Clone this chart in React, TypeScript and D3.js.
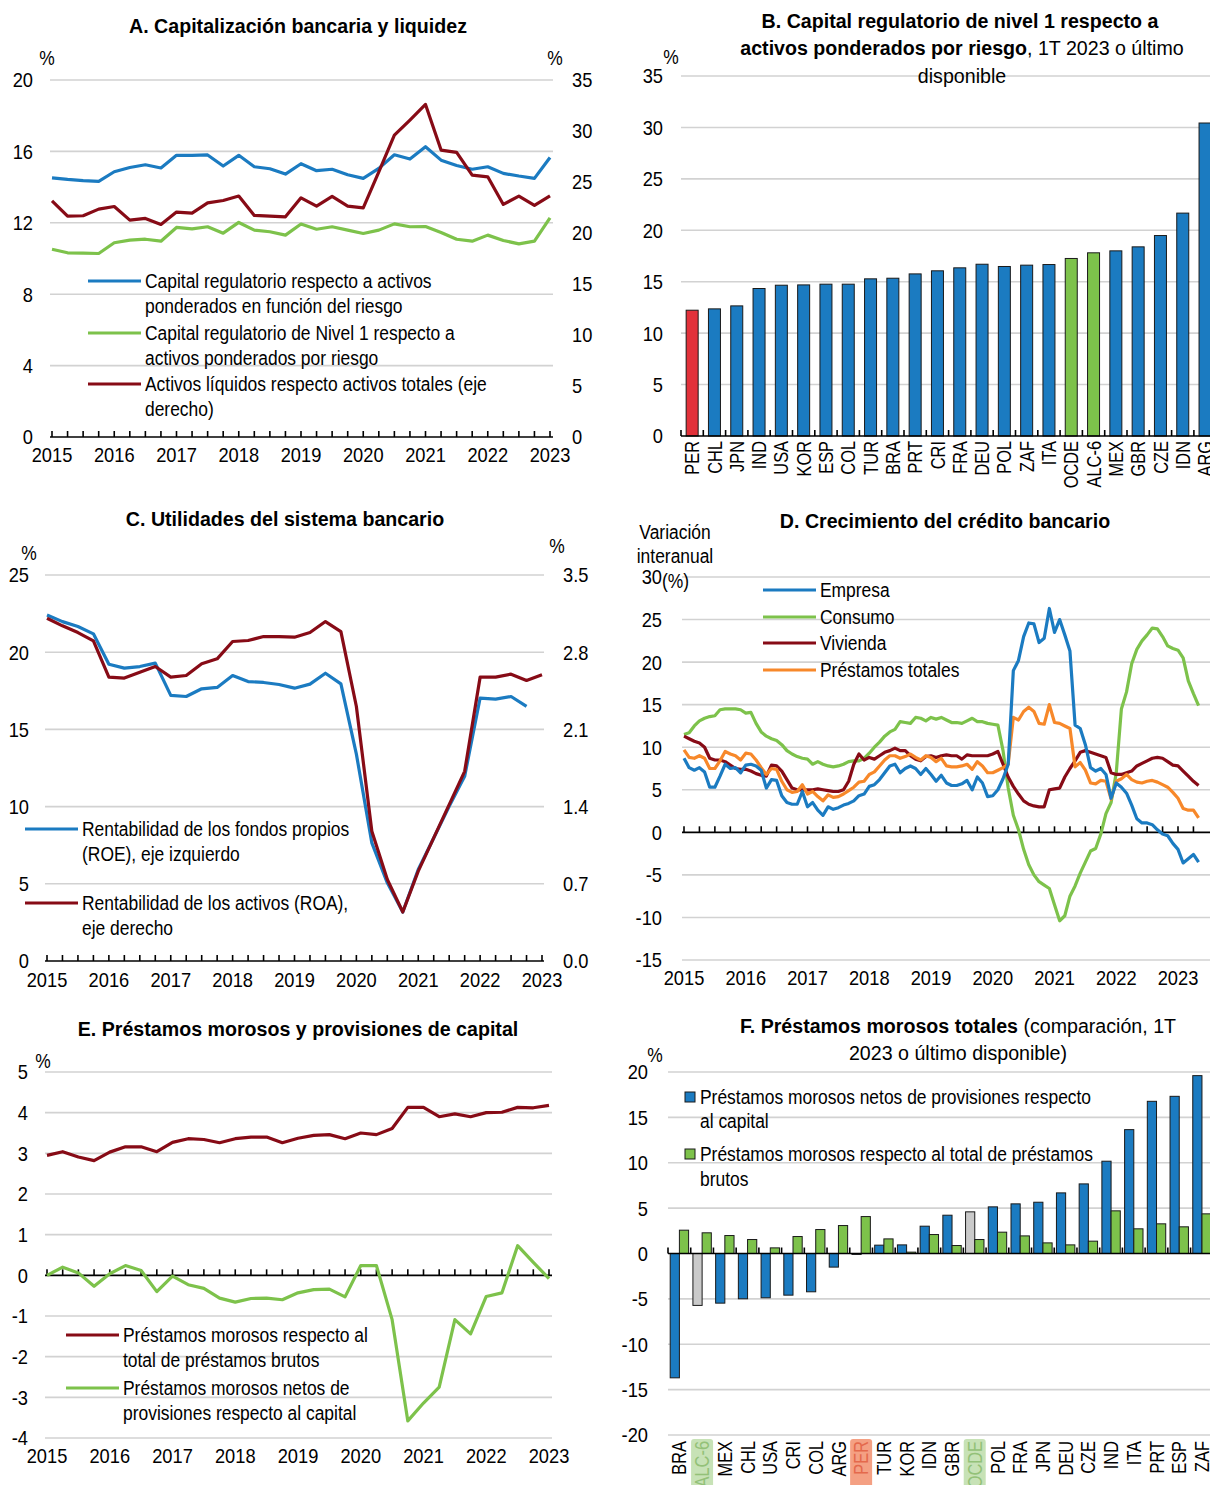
import * as d3 from "d3";

const NARROW = "'Liberation Sans Narrow', 'Arial Narrow', 'Liberation Sans', Arial, sans-serif";
const BLUE = "#1b7bc1";
const GREEN = "#7dc24b";
const DARKRED = "#870b16";
const ORANGE = "#f7882a";
const RED = "#e2313a";
const GREY = "#cacaca";
const GRID = "#d2d2d2";
// no narrow face in the sandbox, so text is squeezed horizontally
const SX = 0.83;
const SX_TICK = 0.87;
const SX_TITLE = 0.935;

const yearLabels = ["2015", "2016", "2017", "2018", "2019", "2020", "2021", "2022", "2023"];

// A. quarterly 2015T1-2023T1
const capitalRegA = [14.52, 14.43, 14.36, 14.32, 14.86, 15.1, 15.25, 15.07, 15.78, 15.78, 15.8, 15.18, 15.78, 15.14, 15.03, 14.73, 15.31, 14.92, 15.0, 14.69, 14.49, 15.05, 15.81, 15.57, 16.26, 15.51, 15.21, 15.0, 15.14, 14.77, 14.62, 14.49, 15.66];
const tier1A = [10.52, 10.32, 10.3, 10.28, 10.88, 11.03, 11.08, 10.97, 11.74, 11.66, 11.78, 11.42, 12.02, 11.59, 11.5, 11.31, 11.93, 11.64, 11.78, 11.59, 11.4, 11.59, 11.94, 11.78, 11.79, 11.46, 11.08, 10.97, 11.31, 11.01, 10.82, 10.97, 12.28];
const liquidA = [23.16, 21.65, 21.69, 22.34, 22.6, 21.26, 21.43, 20.84, 22.05, 21.95, 22.96, 23.19, 23.62, 21.72, 21.65, 21.59, 23.45, 22.64, 23.58, 22.64, 22.47, 26.0, 29.6, 31.07, 32.6, 28.13, 27.9, 25.68, 25.51, 22.8, 23.62, 22.7, 23.65];

// B
const catsB = ["PER", "CHL", "JPN", "IND", "USA", "KOR", "ESP", "COL", "TUR", "BRA", "PRT", "CRI", "FRA", "DEU", "POL", "ZAF", "ITA", "OCDE", "ALC-6", "MEX", "GBR", "CZE", "IDN", "ARG"];
const tier1B = [12.23, 12.36, 12.65, 14.34, 14.66, 14.69, 14.76, 14.76, 15.28, 15.34, 15.76, 16.06, 16.35, 16.7, 16.48, 16.61, 16.67, 17.26, 17.81, 18.0, 18.39, 19.49, 21.67, 30.43];

// C. ROE left axis (to 2022T4), ROA right axis (to 2023T1)
const roeC = [22.41, 21.98, 21.66, 21.19, 19.22, 18.97, 19.07, 19.29, 17.2, 17.13, 17.63, 17.72, 18.49, 18.1, 18.04, 17.91, 17.67, 17.93, 18.64, 17.95, 13.4, 7.65, 5.06, 3.17, 5.93, 7.97, 10.02, 11.96, 17.03, 16.96, 17.13, 16.49];
const roaC = [3.108, 3.039, 2.978, 2.903, 2.574, 2.565, 2.619, 2.67, 2.574, 2.589, 2.695, 2.74, 2.897, 2.906, 2.942, 2.942, 2.936, 2.978, 3.078, 2.987, 2.308, 1.177, 0.739, 0.444, 0.815, 1.116, 1.418, 1.72, 2.574, 2.574, 2.601, 2.544, 2.595];

// D. monthly 2015-01 to 2023-05
const empresaD = [
  8.7, 7.6, 7.3, 7.6, 7.1, 5.3, 5.3, 6.6, 8.0, 7.5, 7.6, 7.0,
  7.9, 8.0, 7.8, 7.3, 5.2, 6.2, 6.1, 4.3, 3.5, 3.3, 3.3, 4.8,
  3.0, 3.5, 2.6, 2.0, 3.0, 2.7, 2.9, 3.2, 3.4, 3.7, 4.3, 4.5,
  5.4, 5.6, 6.2, 7.0, 7.8, 8.0, 7.0, 7.5, 7.8, 7.5, 6.8, 7.5,
  6.8, 6.0, 6.7, 5.8, 5.5, 5.5, 5.7, 6.1, 5.0, 6.5, 5.8, 4.2,
  4.3, 5.0, 6.3, 8.0, 19.0, 20.2, 23.0, 24.6, 24.5, 22.3, 22.8, 26.3,
  23.5, 25.0, 23.2, 21.3, 12.6, 12.2, 10.3, 7.6, 7.2, 7.5, 6.8, 4.0,
  5.8, 5.3, 4.6, 3.2, 1.6, 1.1, 1.1, 0.9, 0.3, -0.2, -0.4, -1.3,
  -2.0, -3.6, -3.1, -2.6, -3.5,
];
const consumoD = [
  11.5, 11.7, 12.5, 13.1, 13.4, 13.6, 13.7, 14.4, 14.5, 14.5, 14.5, 14.4,
  14.0, 14.1, 12.8, 11.8, 11.3, 11.0, 10.8, 10.3, 9.6, 9.2, 8.9, 8.7,
  8.6, 8.0, 8.3, 8.0, 7.8, 7.7, 7.8, 8.0, 8.3, 8.4, 8.4, 8.7,
  9.3, 10.0, 10.6, 11.3, 11.8, 12.1, 13.0, 12.9, 12.8, 13.5, 13.4, 13.1,
  13.5, 13.3, 13.5, 13.2, 12.9, 12.9, 12.8, 13.1, 13.4, 13.0, 13.0, 12.8,
  12.7, 12.6, 9.6, 5.2, 2.0, 0.3, -2.0, -3.8, -5.0, -5.8, -6.2, -6.6,
  -8.5, -10.4, -9.8, -7.5, -6.3, -4.8, -3.5, -2.2, -1.9, -0.2, 2.2, 3.5,
  7.0, 14.5, 16.5, 19.8, 21.5, 22.5, 23.2, 24.0, 23.9, 23.0, 21.9, 21.6,
  21.4, 20.5, 17.8, 16.3, 14.9,
];
const viviendaD = [
  11.3, 11.0, 10.7, 10.5, 10.0, 8.7, 8.5, 8.5, 8.3, 7.9, 7.5, 7.4,
  7.4, 7.2, 6.9, 6.7, 6.6, 7.9, 7.8, 7.2, 6.2, 5.2, 5.0, 5.0,
  5.0, 5.0, 5.1, 5.0, 4.9, 4.8, 4.8, 5.0, 6.0, 8.0, 9.2, 8.5,
  8.8, 8.6, 9.0, 9.4, 9.6, 9.9, 9.6, 9.6, 9.0, 8.6, 8.4, 8.9,
  9.0, 8.8, 9.0, 9.1, 9.0, 9.0, 8.6, 9.1, 9.0, 9.0, 9.0, 9.0,
  9.2, 9.5, 8.0, 6.5, 5.4, 4.5, 3.7, 3.3, 3.1, 3.0, 3.0, 5.0,
  5.1, 5.2, 6.5, 7.5, 8.4, 9.4, 9.6, 9.4, 9.2, 9.0, 8.8, 7.0,
  6.8, 6.8, 7.0, 7.2, 7.8, 8.1, 8.4, 8.7, 8.8, 8.7, 8.3, 7.9,
  7.8, 7.2, 6.6, 6.0, 5.5,
];
const totalesD = [
  9.7, 8.8, 8.7, 9.0, 8.7, 7.5, 7.5, 8.4, 9.5, 9.2, 9.0, 8.5,
  9.3, 9.2, 8.5, 7.6, 6.8, 7.5, 7.4, 6.0, 5.0, 4.7, 4.8, 5.6,
  4.5, 4.8, 4.2, 3.7, 4.4, 4.1, 4.2, 4.5, 4.9, 5.3, 5.9, 6.0,
  6.8, 7.1, 7.8, 8.5, 9.0, 9.0, 8.7, 8.9, 9.2, 8.8, 8.5, 9.0,
  8.8, 8.3, 8.7, 7.8, 7.7, 7.7, 7.8, 8.0, 7.4, 8.3, 7.8, 7.0,
  7.0, 7.3, 7.6, 8.0, 13.5, 13.2, 14.2, 14.7, 14.2, 12.8, 12.7, 15.0,
  12.9, 12.8, 12.5, 12.2, 7.7, 8.2, 7.3, 5.8, 5.7, 6.1, 6.0, 3.9,
  6.0, 6.3, 6.8, 6.2, 5.9, 5.8, 6.0, 6.1, 5.9, 5.6, 5.3, 4.7,
  4.0, 2.8, 2.6, 2.6, 1.7,
];

// E. quarterly 2015T1-2023T1
const nplRatioE = [2.95, 3.04, 2.91, 2.82, 3.03, 3.16, 3.16, 3.04, 3.27, 3.36, 3.34, 3.26, 3.36, 3.4, 3.4, 3.26, 3.37, 3.44, 3.46, 3.36, 3.5, 3.46, 3.61, 4.13, 4.13, 3.9, 3.97, 3.9, 4.0, 4.01, 4.13, 4.12, 4.18];
const netNplE = [0.0, 0.2, 0.06, -0.27, 0.04, 0.24, 0.12, -0.4, -0.02, -0.23, -0.32, -0.56, -0.66, -0.57, -0.56, -0.6, -0.43, -0.35, -0.34, -0.53, 0.24, 0.24, -1.09, -3.58, -3.14, -2.75, -1.09, -1.44, -0.52, -0.43, 0.73, 0.32, -0.08];

// F
const catsF = ["BRA", "ALC-6", "MEX", "CHL", "USA", "CRI", "COL", "ARG", "PER", "TUR", "KOR", "IDN", "GBR", "OCDE", "POL", "FRA", "JPN", "DEU", "CZE", "IND", "ITA", "PRT", "ESP", "ZAF"];
const netNplCapF = [-13.7, -5.72, -5.47, -4.99, -4.88, -4.59, -4.22, -1.5, -0.1, 0.92, 0.95, 3.01, 4.22, 4.59, 5.14, 5.47, 5.65, 6.68, 7.67, 10.17, 13.65, 16.77, 17.32, 19.6];
const nplRatioF = [2.57, 2.28, 1.98, 1.54, 0.62, 1.87, 2.64, 3.08, 4.07, 1.61, 0.15, 2.09, 0.88, 1.54, 2.35, 1.94, 1.17, 0.95, 1.36, 4.7, 2.72, 3.27, 2.94, 4.37];

type Lin = d3.ScaleLinear<number, number>;

function T({ x = 0, y = 0, transform, sx = SX, ...rest }: any) {
  const tf = transform ? `${transform} scale(${sx},1)` : `translate(${x},${y}) scale(${sx},1)`;
  return <text x={0} y={0} transform={tf} fontFamily={NARROW} fontSize={21} fill="#000" dominantBaseline="central" {...rest} />;
}

function Title(props: any) {
  return <T sx={SX_TITLE} textAnchor="middle" {...props} />;
}

function HGrid({ y, ticks, x0, x1 }: { y: Lin; ticks: number[]; x0: number; x1: number }) {
  return (
    <g>
      {ticks.map((t) => (
        <line key={t} x1={x0} x2={x1} y1={y(t)} y2={y(t)} stroke={GRID} strokeWidth={1.6} />
      ))}
    </g>
  );
}

function YLabels({ y, ticks, x, anchor, fmt }: { y: Lin; ticks: number[]; x: number; anchor: string; fmt?: (v: number) => string }) {
  return (
    <g>
      {ticks.map((t) => (
        <T key={t} x={x} y={y(t)} sx={SX_TICK} textAnchor={anchor}>
          {fmt ? fmt(t) : String(t)}
        </T>
      ))}
    </g>
  );
}

function Axis({ x0, x1, y0, tickXs }: { x0: number; x1: number; y0: number; tickXs: number[] }) {
  return (
    <g stroke="#000" strokeWidth={1.6}>
      <line x1={x0} x2={x1} y1={y0} y2={y0} />
      {tickXs.map((tx, i) => (
        <line key={i} x1={tx} x2={tx} y1={y0} y2={y0 - 6} />
      ))}
    </g>
  );
}

function Series({ vals, x, y, color }: { vals: number[]; x: (i: number) => number; y: Lin; color: string }) {
  const gen = d3.line<number>().x((_, i) => x(i)).y((d) => y(d));
  return <path d={gen(vals) || ""} fill="none" stroke={color} strokeWidth={3.2} strokeLinejoin="round" />;
}

function LegendLine({ x, y, color, lines, len = 53 }: { x: number; y: number; color: string; lines: string[]; len?: number }) {
  return (
    <g>
      <line x1={x} x2={x + len} y1={y} y2={y} stroke={color} strokeWidth={3.2} />
      {lines.map((l, i) => (
        <T key={i} x={x + len + 4} y={y + i * 25}>
          {l}
        </T>
      ))}
    </g>
  );
}

function YearLabels({ x, y, step }: { x: (i: number) => number; y: number; step: number }) {
  return (
    <g>
      {yearLabels.map((lab, k) => (
        <T key={lab} x={x(k * step)} y={y} sx={SX_TICK} textAnchor="middle">
          {lab}
        </T>
      ))}
    </g>
  );
}

function PanelA() {
  const x = d3.scaleLinear().domain([0, 32]).range([52, 550]);
  const y = d3.scaleLinear().domain([0, 20]).range([437, 80]);
  const yR = d3.scaleLinear().domain([0, 35]).range([437, 80]);
  return (
    <g>
      <Title x={298} y={26} fontWeight="bold">A. Capitalización bancaria y liquidez</Title>
      <HGrid y={y} ticks={[4, 8, 12, 16, 20]} x0={50} x1={553} />
      <YLabels y={y} ticks={[0, 4, 8, 12, 16, 20]} x={33} anchor="end" />
      <YLabels y={yR} ticks={[0, 5, 10, 15, 20, 25, 30, 35]} x={572} anchor="start" />
      <T x={47} y={58} textAnchor="middle">%</T>
      <T x={555} y={58} textAnchor="middle">%</T>
      <Axis x0={50} x1={553} y0={437} tickXs={d3.range(33).map((i) => x(i))} />
      <YearLabels x={x} y={455} step={4} />
      <Series vals={capitalRegA} x={x} y={y} color={BLUE} />
      <Series vals={tier1A} x={x} y={y} color={GREEN} />
      <Series vals={liquidA} x={x} y={yR} color={DARKRED} />
      <LegendLine x={88} y={281} color={BLUE} lines={["Capital regulatorio respecto a activos", "ponderados en función del riesgo"]} />
      <LegendLine x={88} y={333} color={GREEN} lines={["Capital regulatorio de Nivel 1 respecto a", "activos ponderados por riesgo"]} />
      <LegendLine x={88} y={384} color={DARKRED} lines={["Activos líquidos respecto activos totales (eje", "derecho)"]} />
    </g>
  );
}

function PanelB() {
  const band = d3.scaleBand<string>().domain(catsB).range([681, 681 + 24 * 22.3]);
  const y = d3.scaleLinear().domain([0, 35]).range([436, 76]);
  const w = 12;
  const colorOf = (c: string) => (c === "PER" ? RED : c === "OCDE" || c === "ALC-6" ? GREEN : BLUE);
  return (
    <g>
      <Title x={960} y={21} fontWeight="bold">B. Capital regulatorio de nivel 1 respecto a</Title>
      <Title x={962} y={48}>
        <tspan fontWeight="bold">activos ponderados por riesgo</tspan>, 1T 2023 o último
      </Title>
      <HGrid y={y} ticks={[5, 10, 15, 20, 25, 30, 35]} x0={681} x1={1210} />
      <Title x={962} y={76}>disponible</Title>
      <YLabels y={y} ticks={[0, 5, 10, 15, 20, 25, 30, 35]} x={663} anchor="end" />
      <T x={671} y={57} textAnchor="middle">%</T>
      {catsB.map((c, i) => (
        <rect key={c} x={(band(c) as number) + (band.step() - w) / 2} y={y(tier1B[i])} width={w} height={y(0) - y(tier1B[i])} fill={colorOf(c)} stroke="#1a1a1a" strokeWidth={1} />
      ))}
      <Axis x0={681} x1={1216} y0={436} tickXs={catsB.map((c) => band(c) as number)} />
      {catsB.map((c) => (
        <T key={c} transform={`translate(${(band(c) as number) + band.step() / 2},441) rotate(-90)`} sx={0.82} textAnchor="end" fontSize={20}>
          {c}
        </T>
      ))}
    </g>
  );
}

function PanelC() {
  const x = d3.scaleLinear().domain([0, 32]).range([47, 542]);
  const y = d3.scaleLinear().domain([0, 25]).range([961, 575]);
  const yR = d3.scaleLinear().domain([0, 3.5]).range([961, 575]);
  return (
    <g>
      <Title x={285} y={519} fontWeight="bold">C. Utilidades del sistema bancario</Title>
      <HGrid y={y} ticks={[5, 10, 15, 20, 25]} x0={45} x1={544} />
      <YLabels y={y} ticks={[0, 5, 10, 15, 20, 25]} x={29} anchor="end" />
      <YLabels y={yR} ticks={[0, 0.7, 1.4, 2.1, 2.8, 3.5]} x={563} anchor="start" fmt={(v) => v.toFixed(1)} />
      <T x={29} y={553} textAnchor="middle">%</T>
      <T x={557} y={546} textAnchor="middle">%</T>
      <Axis x0={45} x1={544} y0={961} tickXs={d3.range(33).map((i) => x(i))} />
      <YearLabels x={x} y={980} step={4} />
      <Series vals={roeC} x={x} y={y} color={BLUE} />
      <Series vals={roaC} x={x} y={yR} color={DARKRED} />
      <LegendLine x={25} y={829} color={BLUE} lines={["Rentabilidad de los fondos propios", "(ROE), eje izquierdo"]} />
      <LegendLine x={25} y={903} color={DARKRED} lines={["Rentabilidad de los activos (ROA),", "eje derecho"]} />
    </g>
  );
}

function PanelD() {
  const x = d3.scaleLinear().domain([0, 96]).range([684, 1178]);
  const y = d3.scaleLinear().domain([-15, 30]).range([960, 577]);
  return (
    <g>
      <Title x={945} y={521} fontWeight="bold">D. Crecimiento del crédito bancario</Title>
      <HGrid y={y} ticks={[-15, -10, -5, 5, 10, 15, 20, 25, 30]} x0={682} x1={1210} />
      <YLabels y={y} ticks={[-15, -10, -5, 0, 5, 10, 15, 20, 25, 30]} x={662} anchor="end" />
      <T x={675} y={532} textAnchor="middle">Variación</T>
      <T x={675} y={556} textAnchor="middle">interanual</T>
      <T x={662} y={581} textAnchor="start">(%)</T>
      <Axis x0={682} x1={1210} y0={y(0)} tickXs={d3.range(0, 101, 3).map((m) => x(m))} />
      <YearLabels x={x} y={978} step={12} />
      <Series vals={consumoD} x={x} y={y} color={GREEN} />
      <Series vals={viviendaD} x={x} y={y} color={DARKRED} />
      <Series vals={totalesD} x={x} y={y} color={ORANGE} />
      <Series vals={empresaD} x={x} y={y} color={BLUE} />
      <LegendLine x={763} y={590} color={BLUE} lines={["Empresa"]} />
      <LegendLine x={763} y={617} color={GREEN} lines={["Consumo"]} />
      <LegendLine x={763} y={643} color={DARKRED} lines={["Vivienda"]} />
      <LegendLine x={763} y={670} color={ORANGE} lines={["Préstamos totales"]} />
    </g>
  );
}

function PanelE() {
  const x = d3.scaleLinear().domain([0, 32]).range([47, 549]);
  const y = d3.scaleLinear().domain([-4, 5]).range([1438, 1072]);
  return (
    <g>
      <Title x={298} y={1029} fontWeight="bold">E. Préstamos morosos y provisiones de capital</Title>
      <HGrid y={y} ticks={[-4, -3, -2, -1, 1, 2, 3, 4, 5]} x0={45} x1={552} />
      <YLabels y={y} ticks={[-4, -3, -2, -1, 0, 1, 2, 3, 4, 5]} x={28} anchor="end" />
      <T x={43} y={1061} textAnchor="middle">%</T>
      <Axis x0={45} x1={552} y0={y(0)} tickXs={d3.range(33).map((i) => x(i))} />
      <YearLabels x={x} y={1456} step={4} />
      <Series vals={nplRatioE} x={x} y={y} color={DARKRED} />
      <Series vals={netNplE} x={x} y={y} color={GREEN} />
      <LegendLine x={66} y={1335} color={DARKRED} lines={["Préstamos morosos respecto al", "total de préstamos brutos"]} />
      <LegendLine x={66} y={1388} color={GREEN} lines={["Préstamos morosos netos de", "provisiones respecto al capital"]} />
    </g>
  );
}

function PanelF() {
  const band = d3.scaleBand<string>().domain(catsF).range([668, 668 + 24 * 22.72]);
  const y = d3.scaleLinear().domain([-20, 20]).range([1435, 1072]);
  const w = 9.2;
  const off = 2.2;
  const aggregate = (c: string) => c === "OCDE" || c === "ALC-6";
  const highlight: Record<string, { bg: string; fg: string }> = {
    "ALC-6": { bg: "#c7e2b6", fg: "#93c178" },
    OCDE: { bg: "#c7e2b6", fg: "#93c178" },
    PER: { bg: "#f4a083", fg: "#e4694c" },
  };
  return (
    <g>
      <Title x={958} y={1026}>
        <tspan fontWeight="bold">F. Préstamos morosos totales</tspan> (comparación, 1T
      </Title>
      <Title x={958} y={1053}>2023 o último disponible)</Title>
      <HGrid y={y} ticks={[-20, -15, -10, -5, 5, 10, 15, 20]} x0={668} x1={1210} />
      <YLabels y={y} ticks={[-20, -15, -10, -5, 0, 5, 10, 15, 20]} x={648} anchor="end" />
      <T x={655} y={1055} textAnchor="middle">%</T>
      {catsF.map((c, i) => {
        const b = band(c) as number;
        const v1 = netNplCapF[i];
        const v2 = nplRatioF[i];
        return (
          <g key={c} stroke="#1a1a1a" strokeWidth={1}>
            <rect x={b + off} y={y(Math.max(0, v1))} width={w} height={Math.abs(y(v1) - y(0))} fill={aggregate(c) ? GREY : BLUE} />
            <rect x={b + off + w} y={y(Math.max(0, v2))} width={w} height={Math.abs(y(v2) - y(0))} fill={GREEN} />
          </g>
        );
      })}
      <Axis x0={668} x1={1214} y0={y(0)} tickXs={catsF.map((c) => band(c) as number)} />
      {catsF.map((c) => {
        const cx = (band(c) as number) + band.step() / 2;
        const h = highlight[c];
        return (
          <g key={c}>
            {h && <rect x={cx - 11} y={1439} width={22} height={50} rx={3} fill={h.bg} />}
            <T transform={`translate(${cx},1441) rotate(-90)`} sx={0.82} textAnchor="end" fontSize={20} fill={h ? h.fg : "#000"}>
              {c}
            </T>
          </g>
        );
      })}
      <rect x={685} y={1092} width={10} height={10} fill={BLUE} stroke="#1a1a1a" strokeWidth={1} />
      <T x={700} y={1097}>Préstamos morosos netos de provisiones respecto</T>
      <T x={700} y={1121}>al capital</T>
      <rect x={685} y={1149} width={10} height={10} fill={GREEN} stroke="#1a1a1a" strokeWidth={1} />
      <T x={700} y={1154}>Préstamos morosos respecto al total de préstamos</T>
      <T x={700} y={1179}>brutos</T>
    </g>
  );
}

export default function App() {
  return (
    <svg width={1210} height={1485} style={{ position: "absolute", left: 0, top: 0, background: "#fff" }}>
      <rect width={1210} height={1485} fill="#fff" />
      <PanelA />
      <PanelB />
      <PanelC />
      <PanelD />
      <PanelE />
      <PanelF />
    </svg>
  );
}
